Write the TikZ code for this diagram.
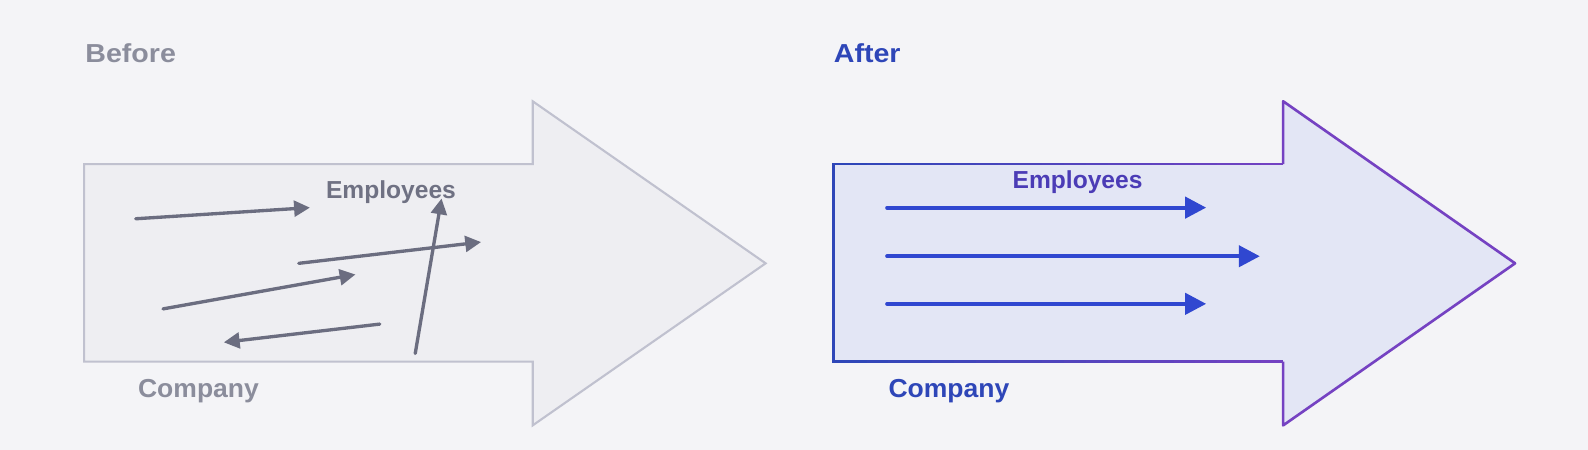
\documentclass[tikz,border=0pt]{standalone}
\usepackage{fontspec}
\setmainfont{Liberation Sans}
\usetikzlibrary{arrows.meta}
\definecolor{paper}{HTML}{F4F4F7}
\definecolor{oldfill}{HTML}{EEEEF2}
\definecolor{oldline}{HTML}{C0C1CF}
\definecolor{oldgray}{HTML}{8B8D9C}
\definecolor{oldemp}{HTML}{6F7183}
\definecolor{oldarrow}{HTML}{6B6D80}
\definecolor{newfill}{HTML}{E3E6F5}
\definecolor{newblue}{HTML}{2E46B8}
\definecolor{newpurple}{HTML}{7542C2}
\definecolor{newemp}{HTML}{4B3CB6}
\definecolor{newarrow}{HTML}{3047D0}

\begin{document}
\begin{tikzpicture}[x=0.02026cm,y=-0.02026cm,
    title/.style={inner sep=0pt, anchor=west, font=\bfseries\fontsize{14.8}{17}\selectfont},
    emp/.style={inner sep=0pt, font=\bfseries\fontsize{14}{16}\selectfont},
    messy/.style={line width=1.9pt, oldarrow, line cap=round, -{Triangle[length=9pt,width=9pt]}},
    aligned/.style={line width=2.3pt, newarrow, line cap=round, -{Triangle[length=12pt,width=12pt]}}]

    \fill[paper] (0,0) rectangle (1568,444.3);
    \useasboundingbox (0,0) rectangle (1568,444.3);

    % before
    \filldraw[fill=oldfill, draw=oldline, line width=1.2pt]
        (83,162) -- (526,162) -- (526,100) -- (756,260) -- (526,420) -- (526,357) -- (83,357) -- cycle;
    \node[title, text=oldgray] (before) at (84,53) {\scalebox{1.1}[1]{Before}};
    \node[title, text=oldgray] (oldcomp) at (136,386.5) {\scalebox{1.02}[1]{Company}};
    \node[emp, text=oldemp] (oldemp) at (386,189.5) {Employees};

    \coordinate (o1s) at (134,216); \coordinate (o1e) at (306,205);
    \coordinate (o2s) at (295,260); \coordinate (o2e) at (475,239);
    \coordinate (o3s) at (161,305); \coordinate (o3e) at (351,271);
    \coordinate (o4s) at (375,320); \coordinate (o4e) at (221,338);
    \coordinate (o5s) at (410,349); \coordinate (o5e) at (436,196);
    \draw[messy] (o1s) -- (o1e);
    \draw[messy] (o2s) -- (o2e);
    \draw[messy] (o3s) -- (o3e);
    \draw[messy] (o4s) -- (o4e);
    \draw[messy] (o5s) -- (o5e);

    % after
    \fill[newfill]
        (823,162) -- (1267,162) -- (1267,100) -- (1496,260) -- (1267,420) -- (1267,357) -- (823,357) -- cycle;
    \draw[newblue, line width=1.5pt] (834,162) -- (823,162) -- (823,357) -- (834,357);
    \foreach \i in {0,...,19} {
        \pgfmathsetmacro\xa{834+\i*21.65}
        \pgfmathsetmacro\xb{834+(\i+1)*21.65}
        \pgfmathtruncatemacro\mix{5*\i+2}
        \draw[newpurple!\mix!newblue, line width=1.5pt] (\xa,162) -- (\xb,162);
        \draw[newpurple!\mix!newblue, line width=1.5pt] (\xa,357) -- (\xb,357);
    }
    \draw[newpurple, line width=1.5pt, line join=round]
        (1267,162) -- (1267,100) -- (1496,260) -- (1267,420) -- (1267,357);
    \node[title, text=newblue] (after) at (823,53) {\scalebox{1.1}[1]{After}};
    \node[title, text=newblue] (newcomp) at (877,386.5) {\scalebox{1.02}[1]{Company}};
    \node[emp, text=newemp] (newemp) at (1064,179.5) {Employees};

    \coordinate (n1s) at (876,205); \coordinate (n1e) at (1191,205);
    \coordinate (n2s) at (876,253); \coordinate (n2e) at (1244,253);
    \coordinate (n3s) at (876,300); \coordinate (n3e) at (1191,300);
    \draw[aligned] (n1s) -- (n1e);
    \draw[aligned] (n2s) -- (n2e);
    \draw[aligned] (n3s) -- (n3e);

\end{tikzpicture}
\end{document}
